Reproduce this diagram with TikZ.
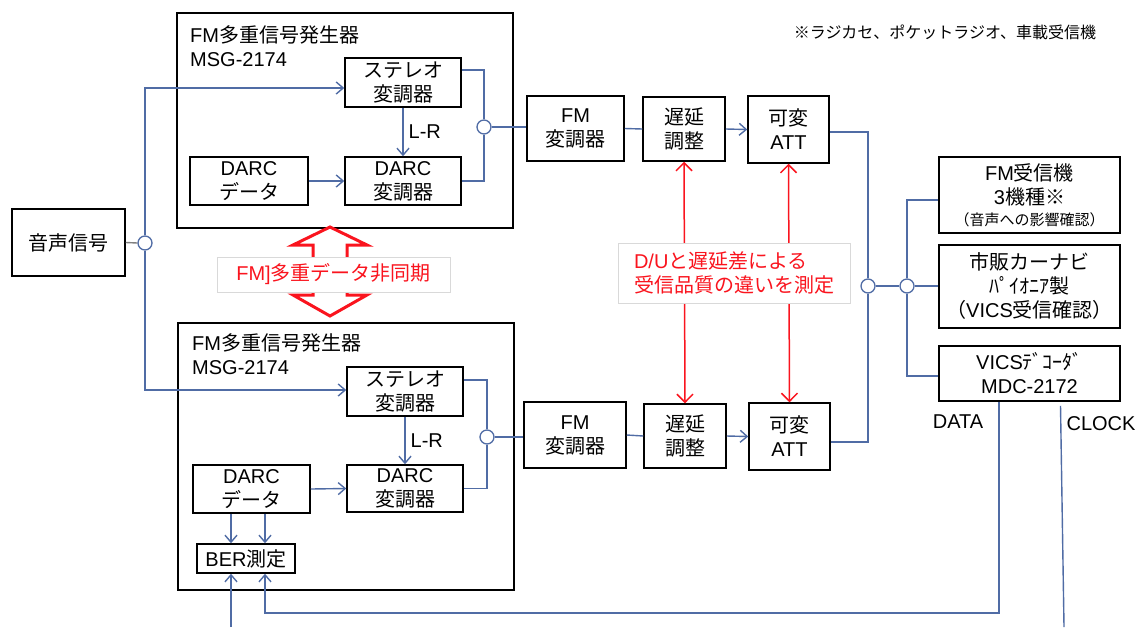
\documentclass[tikz,border=0pt]{standalone}
\usepackage{fontspec}
\setmainfont{Noto Sans CJK JP}
\newfontfamily\lat{Liberation Sans}
\usetikzlibrary{arrows.meta}

\definecolor{sigc}{RGB}{80,108,165}
\definecolor{redc}{RGB}{250,20,30}

\begin{document}
\begin{tikzpicture}[
    x=1pt, y=-1pt,
    >={Straight Barb[length=7pt,width=12pt]},
    every node/.style={font=\fontsize{20}{24}\selectfont},
    sz/.style 2 args={minimum width=#1pt, minimum height=#2pt},
    blk/.style={draw, line width=1.5pt, fill=white, align=center, inner sep=0pt},
    gen/.style={draw, line width=1.5pt, inner sep=0pt},
    jn/.style={circle, draw=sigc, fill=white, line width=1.3pt, minimum size=14pt, inner sep=0pt},
    sig/.style={draw=sigc, line width=1.4pt},
    redarr/.style={draw=redc, line width=1.5pt,
        {Straight Barb[length=8pt,width=16pt]}-{Straight Barb[length=8pt,width=16pt]}},
    redlbl/.style={fill=white, draw=black!15, text=redc, inner sep=0pt},
]
\useasboundingbox (0,0) rectangle (1139,627);

% === Note ===
\node[font=\fontsize{16}{20}\selectfont] (note) at (945,32) {※ラジカセ、ポケットラジオ、車載受信機};

% === Audio source ===
\node[blk, sz={113}{67}] (src) at (68.5,242.5) {音声信号};
\node[jn] (jS) at (145,243) {};

% === Generator A (upper) ===
\node[gen, sz={336}{215}] (genA) at (345,120.5) {};
\node[anchor=north west, align=left, inner sep=0pt] (genAt) at (190,25) {{\lat FM}多重信号発生器\\{\lat MSG-2174}};
\node[blk, sz={116}{49}] (stA) at (403,82.5) {ステレオ\\変調器};
\node[blk, sz={116}{48}] (dmA) at (403,181) {{\lat DARC}\\変調器};
\node[blk, sz={118}{48}] (ddA) at (249,181) {{\lat DARC}\\データ};
\node[jn] (jA) at (484,127) {};

% === Chain A ===
\node[blk, sz={97}{65}] (fmA) at (575.5,128.5) {{\lat FM}\\変調器};
\node[blk, sz={82}{64}] (dlA) at (684,129) {遅延\\調整};
\node[blk, sz={81}{67}] (atA) at (788.5,129.5) {可変\\{\lat ATT}};

% === Generator B (lower) ===
\node[gen, sz={336}{267}] (genB) at (346,456.5) {};
\node[anchor=north west, align=left, inner sep=0pt] (genBt) at (192,333) {{\lat FM}多重信号発生器\\{\lat MSG-2174}};
\node[blk, sz={116}{49}] (stB) at (405,391.5) {ステレオ\\変調器};
\node[blk, sz={116}{47}] (dmB) at (405,488.5) {{\lat DARC}\\変調器};
\node[blk, sz={117}{48}] (ddB) at (251.5,489) {{\lat DARC}\\データ};
\node[blk, sz={98}{29}] (berB) at (246,558.5) {{\lat BER}測定};
\node[jn] (jB) at (487,437) {};

% === Chain B ===
\node[blk, sz={102}{66}] (fmB) at (575,435) {{\lat FM}\\変調器};
\node[blk, sz={82}{64}] (dlB) at (685,436) {遅延\\調整};
\node[blk, sz={81}{67}] (atB) at (789.5,436.5) {可変\\{\lat ATT}};

% === Receivers ===
\node[jn] (j1) at (868,286) {};
\node[jn] (j2) at (907,286) {};
\node[blk, sz={181}{76}] (rx1) at (1029.5,195)
    {{\lat FM}受信機\\{\lat 3}機種※\\[-3pt]{\fontsize{15}{18}\selectfont （音声への影響確認）}};
\node[blk, sz={181}{83}] (rx2) at (1029.5,286.5) {市販カーナビ\\ﾊﾟｲｵﾆｱ製\\（{\lat VICS}受信確認）};
\node[blk, sz={181}{55}] (vics) at (1029.5,373.5) {{\lat VICS}ﾃﾞｺｰﾀﾞ\\{\lat MDC-2172}};
\node[font=\lat\fontsize{20}{24}\selectfont] (dataT) at (958,422) {DATA};
\node[font=\lat\fontsize{20}{24}\selectfont] (clkT) at (1101,424) {CLOCK};
\coordinate (dataLow) at (999,613);
\coordinate (clkEnd) at (1064,627);
\coordinate (berIn) at (231,627);

% === Connectors ===
\draw[sig, draw=gray] (src.east) -- (jS.west);
\draw[sig, ->] (jS.north) |- ([yshift=-5.5pt]stA.west);
\draw[sig, ->] (jS.south) |- ([yshift=1.5pt]stB.west);

\draw[sig, ->] (ddA.east) -- (dmA.west);
\draw[sig, ->] (stA.south) -- (dmA.north) node[midway, right, inner sep=5pt, font=\lat\fontsize{20}{24}\selectfont] {L-R};
\draw[sig] ([yshift=12.5pt]stA.east) -| (jA.north);
\draw[sig] (dmA.east) -| (jA.south);
\draw[sig] (jA.east) -- (jA.east -| fmA.west);
\draw[sig] (fmA.east) -- (dlA.west);
\draw[sig, ->] (dlA.east) -- (atA.west);

\draw[sig, ->] (ddB.east) -- (dmB.west);
\draw[sig, ->] (stB.south) -- (dmB.north) node[midway, right, inner sep=5pt, font=\lat\fontsize{20}{24}\selectfont] {L-R};
\draw[sig] ([yshift=11.5pt]stB.east) -| (jB.north);
\draw[sig] (dmB.east) -| (jB.south);
\draw[sig] (jB.east) -- (jB.east -| fmB.west);
\draw[sig] (fmB.east) -- (dlB.west);
\draw[sig, ->] (dlB.east) -- (atB.west);
\draw[sig, ->] ([xshift=-20.5pt]ddB.south) -- ([xshift=-15pt]berB.north);
\draw[sig, ->] ([xshift=13.5pt]ddB.south) -- ([xshift=19pt]berB.north);

\draw[sig] ([yshift=-2.5pt]atA.east) -| (j1.north);
\draw[sig] ([yshift=-5.5pt]atB.east) -| (j1.south);
\draw[sig] (j1.east) -- (j2.west);
\draw[sig] (j2.north) |- ([yshift=-5pt]rx1.west);
\draw[sig] (j2.east) -- (j2.east -| rx2.west);
\draw[sig] (j2.south) |- ([yshift=-2.5pt]vics.west);

% DATA / CLOCK back to BER
\draw[sig, ->] ([xshift=-30.5pt]vics.south) -- (dataLow) -| ([xshift=19pt]berB.south);
\draw[sig] ([xshift=31pt, yshift=-4pt]vics.south) -- (clkEnd);
\draw[sig, ->] (berIn) -- ([xshift=-15pt]berB.south);

% === Red: D/U and delay ===
\draw[redarr] (dlA.south) -- (dlB.north);
\draw[redarr] (atA.south) -- (atB.north);
\node[redlbl, sz={232}{60}, align=left] (du) at (734,273)
    {{\lat D/U}と遅延差による\\受信品質の違いを測定};

% === Red: hollow double arrow between generators ===
\filldraw[draw=redc, fill=white, line width=3pt, line join=miter]
    (330,227) -- (367,245) -- (347,245) -- (347,295) -- (367,295) -- (330,316)
    -- (293,295) -- (313,295) -- (313,245) -- (293,245) -- cycle;
\node[redlbl, sz={233}{35}] (async) at (333.5,274.5) {{\lat FM]}多重データ非同期};

\end{tikzpicture}
\end{document}
